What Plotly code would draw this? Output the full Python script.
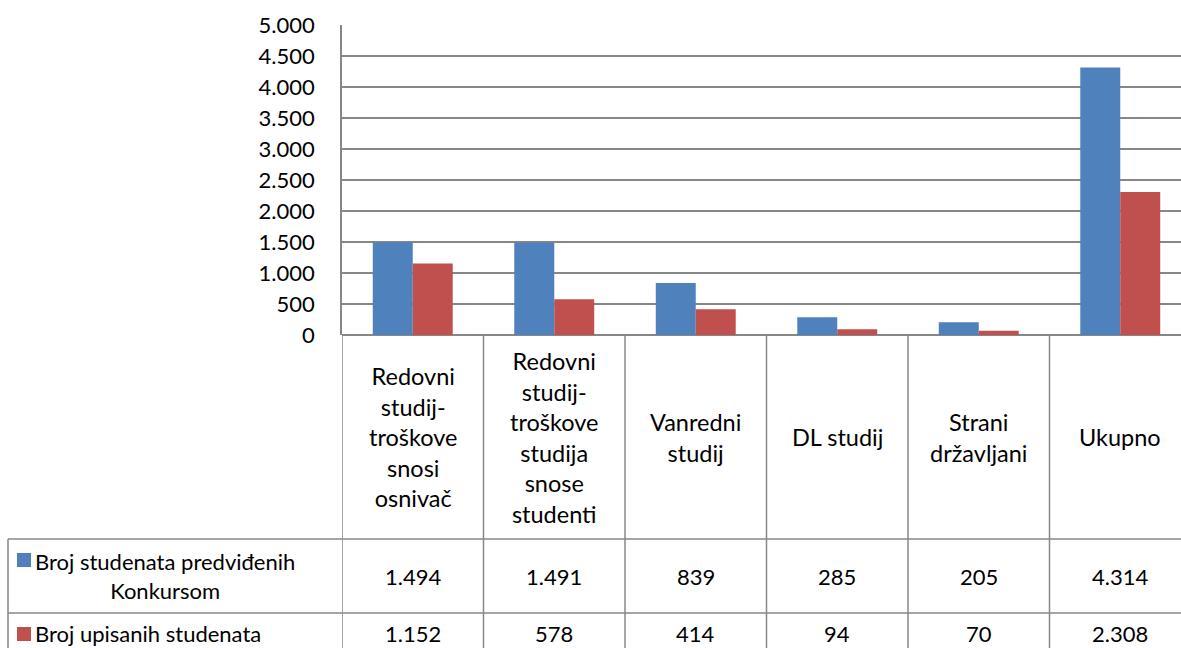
import plotly.graph_objects as go

# --- data ---
categories = [
    "Redovni<br>studij-<br>troškove<br>snosi<br>osnivač",
    "Redovni<br>studij-<br>troškove<br>studija<br>snose<br>studenti",
    "Vanredni<br>studij",
    "DL studij",
    "Strani<br>državljani",
    "Ukupno",
]
series_names = ["Broj studenata predviđenih<br>Konkursom", "Broj upisanih studenata"]
predvideno = [1494, 1491, 839, 285, 205, 4314]
upisano = [1152, 578, 414, 94, 70, 2308]
y_ticks = [0, 500, 1000, 1500, 2000, 2500, 3000, 3500, 4000, 4500, 5000]

# --- styles ---
W, H = 1181, 648
BLUE = "#4F81BD"
RED = "#C0504D"
GRID = "#878787"
FONT = "Lato"
FS = 22


def py(px):
    """pixel row -> paper y"""
    return 1 - px / H


def pxx(px):
    """pixel column -> paper x"""
    return px / W


xs = list(range(len(categories)))
fig = go.Figure()
fig.add_trace(go.Bar(x=xs, y=predvideno, marker_color=BLUE, marker_line_width=0,
                     name="Broj studenata predviđenih Konkursom"))
fig.add_trace(go.Bar(x=xs, y=upisano, marker_color=RED, marker_line_width=0,
                     name="Broj upisanih studenata"))

plot_left, plot_top, plot_bottom = 342, 25, 335
cat_w = 141.5
x_max = (W - plot_left) / cat_w - 0.5

header_bottom, row1_bottom, row2_bottom = 539, 613, 654

shapes = []
line = dict(color=GRID, width=1.5)
# vertical table lines along category borders
for i in range(len(categories)):
    shapes.append(dict(type="line", xref="x", yref="paper", x0=i - 0.5, x1=i - 0.5,
                       y0=py(plot_bottom), y1=0, line=line))
# left border of the table
shapes.append(dict(type="line", xref="paper", yref="paper", x0=pxx(8), x1=pxx(8),
                   y0=py(header_bottom), y1=0, line=line))
# horizontal table lines
for r in (header_bottom, row1_bottom):
    shapes.append(dict(type="line", xref="paper", yref="paper", x0=pxx(8), x1=1,
                       y0=py(r), y1=py(r), line=line))
# legend keys
for color, top in ((BLUE, 553), (RED, 627)):
    shapes.append(dict(type="rect", xref="paper", yref="paper", x0=pxx(17), x1=pxx(31),
                       y0=py(top + 14), y1=py(top), fillcolor=color, line_width=0))

annotations = []
font = dict(family=FONT, size=FS, color="black")
head_font = dict(family=FONT, size=23.5, color="black")
for i, c in enumerate(categories):
    annotations.append(dict(x=i, y=py((plot_bottom + header_bottom) / 2), xref="x", yref="paper",
                            text=c, showarrow=False, font=head_font, align="center",
                            xanchor="center", yanchor="middle"))
for vals, top, bottom in ((predvideno, header_bottom, row1_bottom),
                          (upisano, row1_bottom, row2_bottom)):
    for i, v in enumerate(vals):
        annotations.append(dict(x=i, y=py((top + bottom) / 2), xref="x", yref="paper",
                                text=f"{v:,}".replace(",", "."), showarrow=False, font=font,
                                xanchor="center", yanchor="middle"))
for name, top, bottom in ((series_names[0], header_bottom, row1_bottom),
                          (series_names[1], row1_bottom, row2_bottom)):
    annotations.append(dict(x=pxx(33), y=py((top + bottom) / 2), xref="paper", yref="paper",
                            text=name, showarrow=False, font=font, align="center",
                            xanchor="left", yanchor="middle"))

fig.update_layout(
    width=W, height=H,
    margin=dict(l=0, r=0, t=0, b=0),
    paper_bgcolor="white", plot_bgcolor="white",
    showlegend=False,
    barmode="group", bargap=0.435, bargroupgap=0,
    separators=",.",
    font=font,
    shapes=shapes,
    annotations=annotations,
    xaxis=dict(domain=[pxx(plot_left), 1], range=[-0.5, x_max], showticklabels=False,
               showgrid=False, zeroline=False, showline=False, automargin=False),
    yaxis=dict(domain=[py(plot_bottom), py(plot_top)], range=[0, 5000], tickvals=y_ticks,
               tickformat=",d", showgrid=True, gridcolor=GRID, gridwidth=1.5,
               zeroline=True, zerolinecolor=GRID, zerolinewidth=1.5,
               showline=True, linecolor=GRID, linewidth=1.5,
               ticks="outside", ticklen=21, tickcolor="rgba(0,0,0,0)",
               tickfont=font, automargin=False),
)

# drop the default page margin so the figure fills the window exactly
fig.write_html("out.html", config={"displayModeBar": False},
               post_script="document.body.style.margin='0px';"
                           "document.body.style.overflow='hidden';")
